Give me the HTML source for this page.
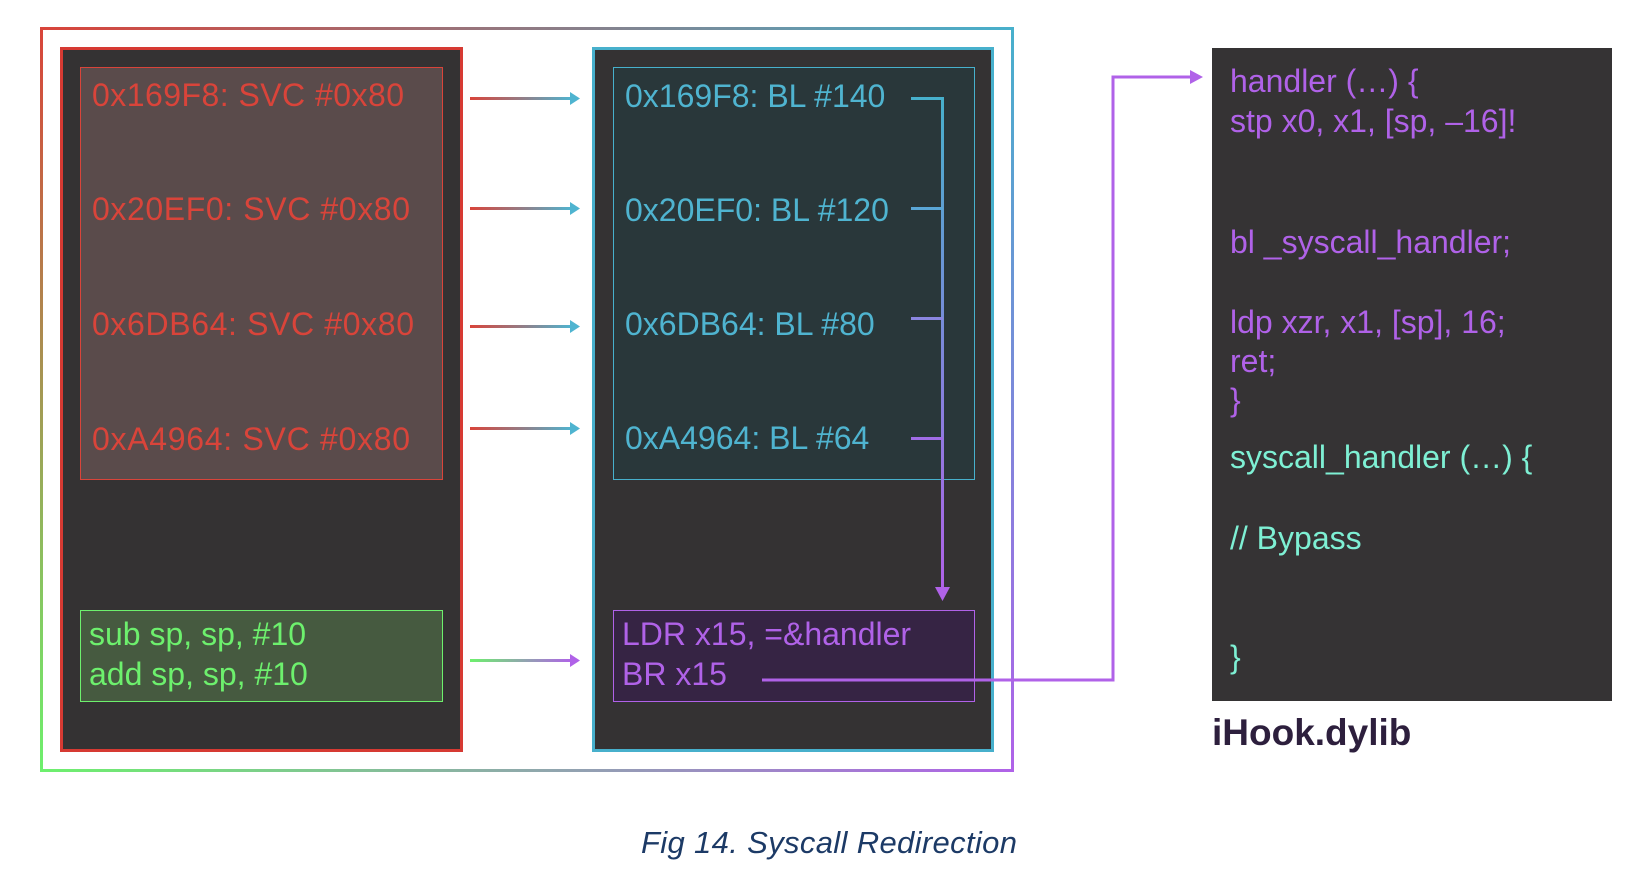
<!DOCTYPE html>
<html><head><meta charset="utf-8"><style>
html,body{margin:0;padding:0;background:#fff;width:1644px;height:888px;overflow:hidden}
svg{display:block}
.c{font-family:"Liberation Sans",sans-serif;font-size:32px}
</style></head><body>
<svg width="1644" height="888" viewBox="0 0 1644 888" xmlns="http://www.w3.org/2000/svg">
<defs>
<linearGradient id="gt" x1="0" x2="1" y1="0" y2="0"><stop offset="0" stop-color="#d9443a"/><stop offset="1" stop-color="#47b0cc"/></linearGradient>
<linearGradient id="gb" x1="0" x2="1" y1="0" y2="0"><stop offset="0" stop-color="#6df06d"/><stop offset="1" stop-color="#b062e8"/></linearGradient>
<linearGradient id="gl" x1="0" x2="0" y1="0" y2="1"><stop offset="0" stop-color="#d9443a"/><stop offset="1" stop-color="#6df06d"/></linearGradient>
<linearGradient id="gr" x1="0" x2="0" y1="0" y2="1"><stop offset="0" stop-color="#47b0cc"/><stop offset="1" stop-color="#b062e8"/></linearGradient>
<linearGradient id="ga" x1="0" x2="1" y1="0" y2="0"><stop offset="0" stop-color="#d9443a"/><stop offset="1" stop-color="#4fb4d0"/></linearGradient>
<linearGradient id="gg" x1="0" x2="1" y1="0" y2="0"><stop offset="0" stop-color="#6df06d"/><stop offset="1" stop-color="#b062e8"/></linearGradient>
<linearGradient id="gv" x1="0" x2="0" y1="0" y2="1"><stop offset="0" stop-color="#47b0cc"/><stop offset="1" stop-color="#b062e8"/></linearGradient>
</defs>
<rect x="40" y="27" width="974" height="3" fill="url(#gt)"/>
<rect x="40" y="769" width="974" height="3" fill="url(#gb)"/>
<rect x="40" y="27" width="3" height="745" fill="url(#gl)"/>
<rect x="1011" y="27" width="3" height="745" fill="url(#gr)"/>
<rect x="61.5" y="48.5" width="400" height="702" fill="#343233" stroke="#d63a33" stroke-width="3"/>
<rect x="80.5" y="67.5" width="362" height="412" fill="#5a4b4b" stroke="#d9443a" stroke-width="1"/>
<g class="c" fill="#d9443a">
<text x="92" y="106" textLength="312">0x169F8: SVC #0x80</text>
<text x="92" y="220" textLength="318">0x20EF0: SVC #0x80</text>
<text x="92" y="335" textLength="322">0x6DB64: SVC #0x80</text>
<text x="92" y="450" textLength="318">0xA4964: SVC #0x80</text>
</g>
<rect x="80.5" y="610.5" width="362" height="91" fill="#465a40" stroke="#6df06d" stroke-width="1"/>
<g class="c" fill="#6df06d">
<text x="89" y="645">sub sp, sp, #10</text>
<text x="89" y="685">add sp, sp, #10</text>
</g>
<rect x="593.5" y="48.5" width="399" height="702" fill="#343233" stroke="#47b0cc" stroke-width="3"/>
<rect x="613.5" y="67.5" width="361" height="412" fill="#29373a" stroke="#47b0cc" stroke-width="1"/>
<g class="c" fill="#4fb4d0">
<text x="625" y="107">0x169F8: BL #140</text>
<text x="625" y="221">0x20EF0: BL #120</text>
<text x="625" y="335">0x6DB64: BL #80</text>
<text x="625" y="449">0xA4964: BL #64</text>
</g>
<rect x="613.5" y="610.5" width="361" height="91" fill="#362444" stroke="#b062e8" stroke-width="1"/>
<g class="c" fill="#b062e8">
<text x="622" y="645">LDR x15, =&amp;handler</text>
<text x="622" y="685">BR x15</text>
</g>
<rect x="470" y="97" width="102" height="3" fill="url(#ga)"/><polygon points="570,92 580,98.5 570,105" fill="#4fb4d0"/>
<rect x="470" y="207" width="102" height="3" fill="url(#ga)"/><polygon points="570,202 580,208.5 570,215" fill="#4fb4d0"/>
<rect x="470" y="325" width="102" height="3" fill="url(#ga)"/><polygon points="570,320 580,326.5 570,333" fill="#4fb4d0"/>
<rect x="470" y="427" width="102" height="3" fill="url(#ga)"/><polygon points="570,422 580,428.5 570,435" fill="#4fb4d0"/>
<rect x="470" y="659" width="102" height="3" fill="url(#gg)"/><polygon points="570,654 580,660.5 570,667" fill="#b062e8"/>
<rect x="941" y="97" width="3" height="492" fill="url(#gv)"/>
<polygon points="935,587 950,587 942.5,601" fill="#b062e8"/>
<rect x="911" y="97" width="32" height="3" fill="#47b0cc"/>
<rect x="911" y="207" width="32" height="3" fill="#5aa6d6"/>
<rect x="911" y="317" width="32" height="3" fill="#8a86e0"/>
<rect x="911" y="437" width="32" height="3" fill="#a06ce6"/>
<polyline points="762,680 1113,680 1113,77 1192,77" fill="none" stroke="#b062e8" stroke-width="3"/>
<polygon points="1190,70 1203,77 1190,84" fill="#b062e8"/>
<rect x="1212" y="48" width="400" height="653" fill="#353334"/>
<g class="c" fill="#b062e8">
<text x="1230" y="92">handler (…) {</text>
<text x="1230" y="132">stp x0, x1, [sp, –16]!</text>
<text x="1230" y="253">bl _syscall_handler;</text>
<text x="1230" y="333">ldp xzr, x1, [sp], 16;</text>
<text x="1230" y="372">ret;</text>
<text x="1230" y="411">}</text>
</g>
<g class="c" fill="#7ef0d4">
<text x="1230" y="468">syscall_handler (…) {</text>
<text x="1230" y="549">// Bypass</text>
<text x="1230" y="668">}</text>
</g>
<text x="1212" y="745" font-family="Liberation Sans,sans-serif" font-size="37" font-weight="bold" fill="#2d1f3d">iHook.dylib</text>
<text x="641" y="853" font-family="Liberation Sans,sans-serif" font-size="31" font-style="italic" fill="#1c3a66" textLength="376">Fig 14. Syscall Redirection</text>
</svg>
</body></html>
